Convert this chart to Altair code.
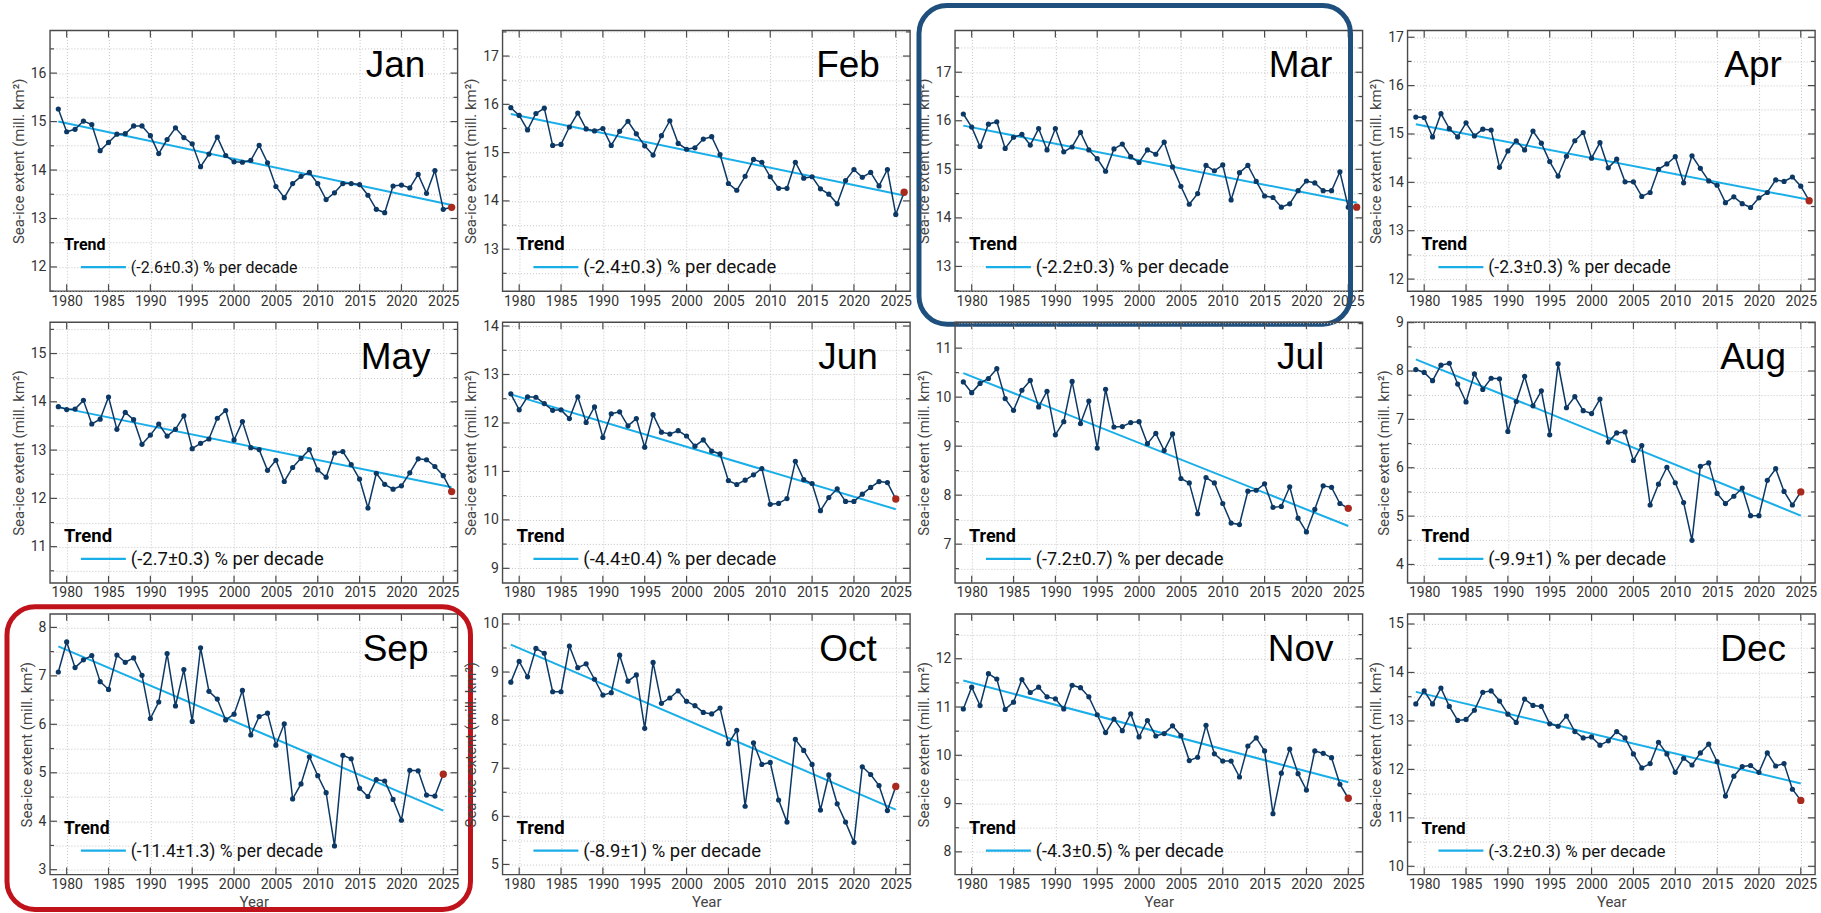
import math
import altair as alt
import pandas as pd

# ---------------- data ----------------
months = ["Jan", "Feb", "Mar", "Apr", "May", "Jun",
          "Jul", "Aug", "Sep", "Oct", "Nov", "Dec"]

jan = [15.26, 14.79, 14.84, 15.01, 14.94, 14.40, 14.57, 14.74, 14.75, 14.91,
       14.91, 14.71, 14.34, 14.63, 14.87, 14.67, 14.54, 14.07, 14.33, 14.68,
       14.30, 14.17, 14.16, 14.20, 14.51, 14.15, 13.66, 13.43, 13.72, 13.87,
       13.95, 13.72, 13.39, 13.53, 13.72, 13.72, 13.70, 13.48, 13.19, 13.12,
       13.67, 13.69, 13.63, 13.91, 13.52, 13.99, 13.19, 13.23]
feb = [15.93, 15.77, 15.47, 15.81, 15.92, 15.15, 15.17, 15.53, 15.82, 15.49,
       15.45, 15.50, 15.15, 15.44, 15.65, 15.39, 15.14, 14.95, 15.35, 15.66,
       15.19, 15.07, 15.10, 15.28, 15.33, 14.96, 14.36, 14.22, 14.51, 14.86,
       14.80, 14.50, 14.26, 14.26, 14.80, 14.47, 14.50, 14.25, 14.14, 13.94,
       14.42, 14.65, 14.49, 14.59, 14.31, 14.65, 13.72, 14.18]
mar = [16.14, 15.87, 15.47, 15.93, 15.98, 15.43, 15.66, 15.72, 15.50, 15.84,
       15.40, 15.84, 15.36, 15.46, 15.76, 15.40, 15.22, 14.96, 15.42, 15.52,
       15.26, 15.14, 15.40, 15.31, 15.56, 15.05, 14.65, 14.28, 14.50, 15.08,
       14.97, 15.09, 14.37, 14.93, 15.08, 14.75, 14.45, 14.42, 14.22, 14.29,
       14.56, 14.76, 14.72, 14.56, 14.56, 14.95, 14.22, 14.22]
apr = [15.35, 15.34, 14.94, 15.42, 15.11, 14.94, 15.23, 14.96, 15.10, 15.08,
       14.31, 14.65, 14.86, 14.67, 15.06, 14.81, 14.43, 14.13, 14.54, 14.86,
       15.03, 14.50, 14.82, 14.30, 14.48, 14.01, 14.01, 13.71, 13.79, 14.27,
       14.38, 14.53, 13.99, 14.55, 14.29, 14.03, 13.94, 13.58, 13.70, 13.56,
       13.48, 13.68, 13.79, 14.05, 14.02, 14.11, 13.92, 13.62]
may = [13.90, 13.84, 13.85, 14.03, 13.54, 13.64, 14.10, 13.43, 13.78, 13.63,
       13.12, 13.31, 13.54, 13.29, 13.43, 13.71, 13.03, 13.14, 13.23, 13.66,
       13.82, 13.21, 13.59, 13.05, 13.01, 12.58, 12.79, 12.35, 12.64, 12.83,
       13.01, 12.59, 12.44, 12.94, 12.97, 12.70, 12.40, 11.80, 12.52, 12.29,
       12.19, 12.26, 12.53, 12.82, 12.80, 12.66, 12.47, 12.14]
jun = [12.60, 12.27, 12.54, 12.53, 12.40, 12.26, 12.27, 12.09, 12.54, 12.01,
       12.33, 11.70, 12.19, 12.23, 11.94, 12.09, 11.50, 12.17, 11.81, 11.77,
       11.84, 11.73, 11.52, 11.65, 11.42, 11.36, 10.81, 10.73, 10.82, 10.93,
       11.06, 10.32, 10.34, 10.44, 11.21, 10.83, 10.75, 10.19, 10.46, 10.64,
       10.38, 10.38, 10.53, 10.67, 10.79, 10.77, 10.43]
jul = [10.31, 10.09, 10.28, 10.38, 10.58, 9.97, 9.73, 10.14, 10.34, 9.80,
       10.12, 9.23, 9.50, 10.32, 9.46, 9.92, 8.96, 10.16, 9.39, 9.40,
       9.48, 9.50, 9.05, 9.26, 8.91, 9.25, 8.34, 8.25, 7.62, 8.36,
       8.25, 7.83, 7.43, 7.40, 8.08, 8.10, 8.23, 7.75, 7.77, 8.17,
       7.53, 7.25, 7.71, 8.19, 8.16, 7.83, 7.73]
aug = [8.03, 7.97, 7.80, 8.12, 8.16, 7.73, 7.36, 7.94, 7.62, 7.85,
       7.84, 6.75, 7.37, 7.89, 7.28, 7.59, 6.68, 8.15, 7.24, 7.47,
       7.18, 7.12, 7.42, 6.53, 6.72, 6.74, 6.15, 6.46, 5.23, 5.66,
       6.01, 5.69, 5.28, 4.50, 6.03, 6.10, 5.47, 5.26, 5.41, 5.58,
       5.01, 5.01, 5.74, 5.98, 5.51, 5.23, 5.50]
sep = [7.08, 7.70, 7.17, 7.33, 7.42, 6.88, 6.72, 7.43, 7.28, 7.37,
       7.01, 6.12, 6.46, 7.46, 6.38, 7.13, 6.06, 7.58, 6.68, 6.52,
       6.09, 6.21, 6.70, 5.78, 6.16, 6.23, 5.57, 6.01, 4.46, 4.77,
       5.33, 4.94, 4.59, 3.49, 5.36, 5.29, 4.68, 4.51, 4.86, 4.83,
       4.45, 4.02, 5.05, 5.04, 4.54, 4.52, 4.97]
oct_ = [8.79, 9.22, 8.90, 9.49, 9.39, 8.59, 8.59, 9.54, 9.09, 9.17,
        8.85, 8.52, 8.57, 9.35, 8.81, 8.94, 7.83, 9.20, 8.35, 8.46,
        8.61, 8.39, 8.30, 8.16, 8.13, 8.25, 7.51, 7.79, 6.21, 7.53,
        7.08, 7.12, 6.34, 5.88, 7.60, 7.37, 7.08, 6.13, 6.86, 6.26,
        5.88, 5.46, 7.03, 6.87, 6.64, 6.12, 6.62]
nov = [10.96, 11.41, 11.03, 11.69, 11.58, 10.95, 11.10, 11.57, 11.30, 11.41,
       11.21, 11.17, 10.96, 11.45, 11.40, 11.21, 10.84, 10.47, 10.75, 10.51,
       10.86, 10.38, 10.72, 10.40, 10.45, 10.61, 10.41, 9.89, 9.96, 10.62,
       10.03, 9.88, 9.88, 9.55, 10.19, 10.36, 10.09, 8.79, 9.63, 10.13,
       9.62, 9.28, 10.09, 10.04, 9.95, 9.40, 9.11]
dec = [13.35, 13.62, 13.35, 13.68, 13.30, 13.01, 13.03, 13.22, 13.59, 13.62,
       13.41, 13.14, 12.97, 13.45, 13.32, 13.30, 12.94, 12.89, 13.10, 12.78,
       12.65, 12.67, 12.50, 12.59, 12.78, 12.65, 12.32, 12.03, 12.12, 12.56,
       12.32, 11.94, 12.23, 12.09, 12.34, 12.52, 12.16, 11.45, 11.86, 12.06,
       12.08, 11.94, 12.34, 12.07, 12.12, 11.59, 11.36]

series = [jan, feb, mar, apr, may, jun, jul, aug, sep, oct_, nov, dec]
first_year = 1979

trend_labels = ["(-2.6±0.3) % per decade", "(-2.4±0.3) % per decade",
                "(-2.2±0.3) % per decade", "(-2.3±0.3) % per decade",
                "(-2.7±0.3) % per decade", "(-4.4±0.4) % per decade",
                "(-7.2±0.7) % per decade", "(-9.9±1) % per decade",
                "(-11.4±1.3) % per decade", "(-8.9±1) % per decade",
                "(-4.3±0.5) % per decade", "(-3.2±0.3) % per decade"]
trend_start = [15.00, 15.80, 15.90, 15.20, 13.89, 12.59, 10.49, 8.24, 7.61, 9.57, 11.55, 13.60]
trend_end = [13.28, 14.11, 14.31, 13.64, 12.23, 10.22, 7.37, 5.01, 4.22, 6.14, 9.44, 11.71]

y_lo = [11.5, 12.13, 12.49, 11.75, 10.25, 8.7, 6.21, 3.62, 2.9, 4.79, 7.53, 9.83]
y_hi = [16.88, 17.53, 17.86, 17.14, 15.65, 14.08, 11.53, 9.01, 8.28, 10.21, 12.93, 15.21]
x_domain = [1978, 2026.7]
year_ticks = [1980, 1985, 1990, 1995, 2000, 2005, 2010, 2015, 2020, 2025]

# ---------------- style ----------------
NAVY = "#0b3864"
RED = "#a92a1d"
BLUE = "#1aaee8"
FRAME = "#4a4a4a"
W, H = 408, 261
legend_fs = [16, 18.5, 18.5, 17.5, 18.5, 18.5, 18, 18.5, 17.5, 18.5, 18, 17]
highlight = {2: ("#1f4f7c", -36, 396, -25, 294), 8: ("#c0121a", -43, 421, -7, 296)}
FONT = "Roboto"


def panel(i):
    vals = series[i]
    yrs = list(range(first_year, first_year + len(vals)))
    df = pd.DataFrame({"Year": yrs, "Extent": vals,
                       "latest": [False] * (len(vals) - 1) + [True]})
    tdf = pd.DataFrame({"Year": [first_year, yrs[-1]],
                        "Extent": [trend_start[i], trend_end[i]]})
    ann = pd.DataFrame({"month": [months[i]], "label": [trend_labels[i]], "title": ["Trend"]})

    lo, hi = y_lo[i], y_hi[i]
    yvals = [k / 2 for k in range(math.ceil(lo * 2), math.floor(hi * 2) + 1)]
    ymajor = pd.DataFrame({"Extent": [v for v in yvals if v % 1 == 0]})
    yminor = pd.DataFrame({"Extent": [v for v in yvals if v % 1 != 0]})
    xmajor = pd.DataFrame({"Year": year_ticks})

    xscale = alt.Scale(domain=x_domain, nice=False, zero=False)
    yscale = alt.Scale(domain=[lo, hi], nice=False, zero=False)
    bottom = i >= 8
    xaxis = alt.Axis(values=year_ticks, format="d", title="Year" if bottom else None,
                     labelPadding=3, titlePadding=3)
    yaxis = alt.Axis(values=yvals, title="Sea-ice extent (mill. km²)",
                     labelExpr="datum.value % 1 == 0 ? format(datum.value, 'd') : ''",
                     labelPadding=4, titlePadding=4)

    x = alt.X("Year:Q", scale=xscale, axis=xaxis)
    y = alt.Y("Extent:Q", scale=yscale, axis=yaxis)

    trend = alt.Chart(tdf).mark_line(color=BLUE, strokeWidth=2).encode(x=x, y=y)
    line = alt.Chart(df).mark_line(color=NAVY, strokeWidth=1.5).encode(x=x, y=y)
    pts = alt.Chart(df).mark_circle(opacity=1).encode(
        x=x, y=y,
        color=alt.condition(alt.datum.latest, alt.value(RED), alt.value(NAVY)),
        size=alt.condition(alt.datum.latest, alt.value(54), alt.value(27)),
    )

    # inward frame ticks
    tk = dict(color=FRAME, strokeWidth=1.2)
    t_yl = alt.Chart(ymajor).mark_rule(**tk).encode(y=y, x=alt.value(0), x2=alt.value(7))
    t_yr = alt.Chart(ymajor).mark_rule(**tk).encode(y=y, x=alt.value(W - 7), x2=alt.value(W))
    t_yl2 = alt.Chart(yminor).mark_rule(**tk).encode(y=y, x=alt.value(0), x2=alt.value(4))
    t_yr2 = alt.Chart(yminor).mark_rule(**tk).encode(y=y, x=alt.value(W - 4), x2=alt.value(W))
    t_xb = alt.Chart(xmajor).mark_rule(**tk).encode(x=x, y=alt.value(H - 7), y2=alt.value(H))
    t_xt = alt.Chart(xmajor).mark_rule(**tk).encode(x=x, y=alt.value(0), y2=alt.value(7))

    month_txt = alt.Chart(ann).mark_text(
        font="Liberation Sans", fontSize=37, align="center", baseline="alphabetic", color="black"
    ).encode(x=alt.value(346), y=alt.value(47), text="month:N")
    fs = legend_fs[i]
    leg_title = alt.Chart(ann).mark_text(
        font=FONT, fontSize=fs, fontWeight="bold", align="left", baseline="alphabetic", color="black"
    ).encode(x=alt.value(14), y=alt.value(220), text="title:N")
    leg_rule = alt.Chart(ann).mark_rule(color=BLUE, strokeWidth=2.2).encode(
        x=alt.value(31), x2=alt.value(76), y=alt.value(237))
    leg_label = alt.Chart(ann).mark_text(
        font=FONT, fontSize=fs, align="left", baseline="alphabetic", color="#111"
    ).encode(x=alt.value(81), y=alt.value(243), text="label:N")

    layers = [t_yl, t_yr, t_yl2, t_yr2, t_xb, t_xt, trend, line, pts,
              month_txt, leg_title, leg_rule, leg_label]
    if i in highlight:
        col, x1, x2, y1, y2 = highlight[i]
        box = alt.Chart(ann).mark_rect(
            fillOpacity=0, stroke=col, strokeWidth=5, cornerRadius=28
        ).encode(x=alt.value(x1), x2=alt.value(x2), y=alt.value(y1), y2=alt.value(y2))
        layers.append(box)
    return alt.layer(*layers).properties(width=W, height=H)


panels = [panel(i) for i in range(12)]

chart = alt.concat(
    *panels, columns=4, spacing={"row": 31, "column": 45}, bounds="flush"
).resolve_scale(
    x="independent", y="independent", color="independent", size="independent"
).properties(
    padding={"left": 3, "top": 1, "right": 3, "bottom": 0}, background="white"
).configure_view(
    stroke=FRAME, strokeWidth=1.4
).configure_axis(
    labelFont=FONT, labelFontSize=14, labelColor="#333333",
    titleFont=FONT, titleFontSize=15, titleColor="#444444", titleFontWeight="normal",
    grid=True, gridColor="#c4c4c4", gridDash=[1, 2], gridWidth=1,
    ticks=False, domain=False,
)

chart.save("out.html", embed_options={"renderer": "svg", "actions": False})
